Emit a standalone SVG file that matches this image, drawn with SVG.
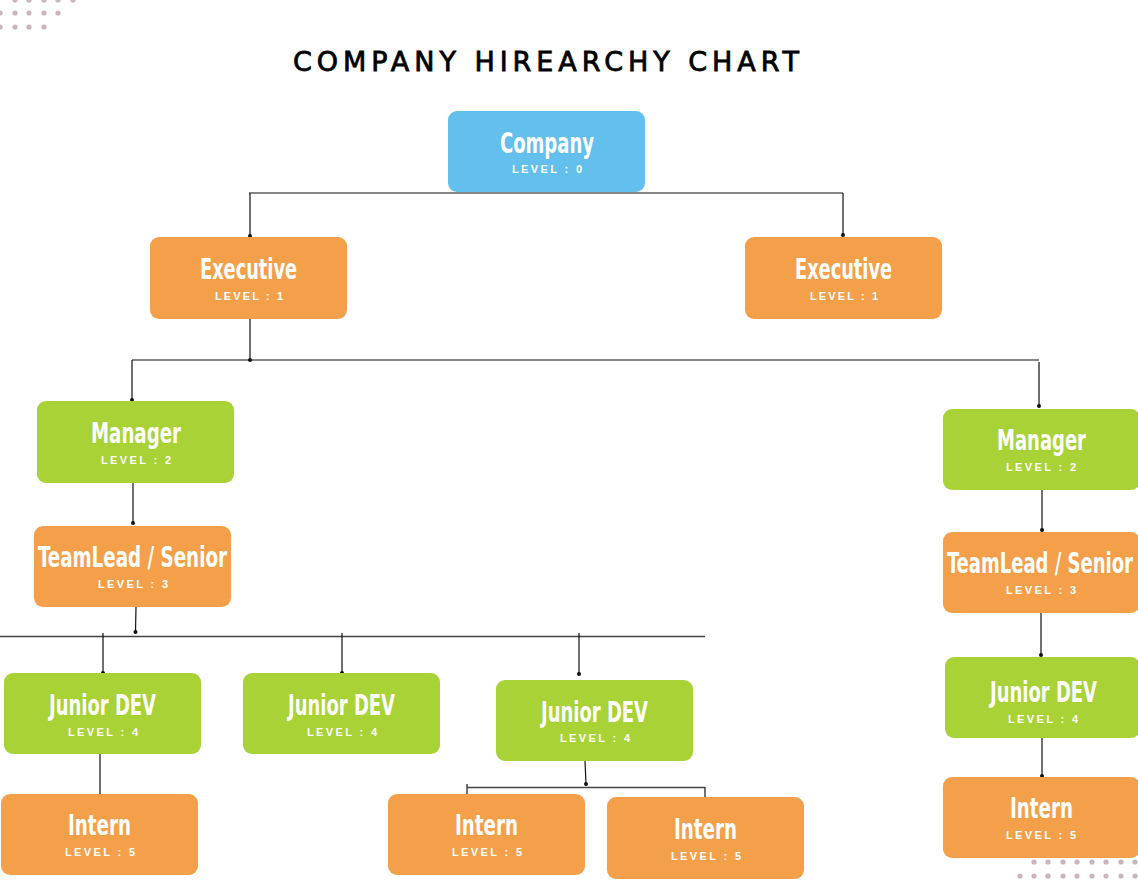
<svg xmlns="http://www.w3.org/2000/svg" width="1138" height="886" viewBox="0 0 1138 886">
<defs>
<style>
.blue{fill:#63BFEC}
.orange{fill:#F4A04A}
.green{fill:#A8D236}
.t{font-family:"DejaVu Sans Condensed","DejaVu Sans",sans-serif;font-weight:bold;font-size:21px;fill:#fff}
.l{font-family:"Liberation Sans",Arial,sans-serif;font-weight:bold;font-size:11px;fill:#fff}
.ln{stroke:#111;stroke-width:1.2;fill:none}
.bus{stroke:#444;stroke-width:1.5;fill:none}
.dot{fill:#111}
.pd{fill:#C9B6BA}
.title{font-family:"DejaVu Sans",sans-serif;font-weight:normal;font-size:27px;fill:#000;stroke:#000;stroke-width:0.8}
</style>
</defs>
<rect width="1138" height="886" fill="#fff"/>
<g id="dots-top">
<circle class="pd" cx="15" cy="0" r="2.6"/><circle class="pd" cx="29" cy="0" r="2.6"/><circle class="pd" cx="44" cy="0" r="2.6"/><circle class="pd" cx="58" cy="0" r="2.6"/><circle class="pd" cx="73" cy="0" r="2.6"/>
<circle class="pd" cx="0" cy="13" r="2.6"/><circle class="pd" cx="15" cy="13" r="2.6"/><circle class="pd" cx="29" cy="13" r="2.6"/><circle class="pd" cx="44" cy="13" r="2.6"/><circle class="pd" cx="58" cy="13" r="2.6"/>
<circle class="pd" cx="0" cy="27" r="2.6"/><circle class="pd" cx="15" cy="27" r="2.6"/><circle class="pd" cx="29" cy="27" r="2.6"/><circle class="pd" cx="44" cy="27" r="2.6"/>
</g>
<g id="dots-bottom">
<circle class="pd" cx="1034" cy="862" r="2.6"/><circle class="pd" cx="1048" cy="862" r="2.6"/><circle class="pd" cx="1063" cy="862" r="2.6"/><circle class="pd" cx="1077" cy="862" r="2.6"/><circle class="pd" cx="1092" cy="862" r="2.6"/><circle class="pd" cx="1106" cy="862" r="2.6"/><circle class="pd" cx="1121" cy="862" r="2.6"/><circle class="pd" cx="1135" cy="862" r="2.6"/>
<circle class="pd" cx="1020" cy="876" r="2.6"/><circle class="pd" cx="1034" cy="876" r="2.6"/><circle class="pd" cx="1048" cy="876" r="2.6"/><circle class="pd" cx="1063" cy="876" r="2.6"/><circle class="pd" cx="1077" cy="876" r="2.6"/><circle class="pd" cx="1092" cy="876" r="2.6"/><circle class="pd" cx="1106" cy="876" r="2.6"/><circle class="pd" cx="1121" cy="876" r="2.6"/><circle class="pd" cx="1135" cy="876" r="2.6"/>
</g>
<text class="title" x="293" y="71" textLength="506" lengthAdjust="spacing">COMPANY HIREARCHY CHART</text>
<g id="connectors">
<path class="ln" d="M249 193H843M250 193V236M843 193V235"/>
<circle class="dot" cx="250" cy="236" r="2"/><circle class="dot" cx="843" cy="235" r="2"/>
<path class="ln" d="M250 319V360M132 360H1039M132 360V400M1039 362V406"/>
<circle class="dot" cx="250" cy="360" r="2"/><circle class="dot" cx="132" cy="400" r="2"/><circle class="dot" cx="1039" cy="406" r="2"/>
<path class="ln" d="M133 483V523"/><circle class="dot" cx="133" cy="523" r="2"/>
<path class="ln" d="M136 607L135.5 632"/><circle class="dot" cx="135.5" cy="632" r="2"/>
<path class="bus" d="M0 636.5H705"/>
<path class="ln" d="M103 633V673M342 633V673M579 633V675"/>
<circle class="dot" cx="103" cy="673" r="2"/><circle class="dot" cx="342" cy="673" r="2"/><circle class="dot" cx="579" cy="674" r="2"/>
<path class="ln" d="M100 754V794"/>
<path class="ln" d="M585 761L586 784"/><circle class="dot" cx="586" cy="784" r="2"/>
<path class="bus" d="M467 787.5H705M467 784V794M705 787V797"/>
<path class="ln" d="M1042 490V530"/><circle class="dot" cx="1042" cy="530" r="2"/>
<path class="ln" d="M1041 613V655"/><circle class="dot" cx="1041" cy="655" r="2"/>
<path class="ln" d="M1042 738V776"/><circle class="dot" cx="1042" cy="776" r="2"/>
</g>
<g id="company"><rect class="blue" x="448" y="111" width="197" height="81" rx="9"/><text class="t" transform="translate(500 153) scale(1 1.38)" textLength="94" lengthAdjust="spacingAndGlyphs">Company</text><text class="l" x="512" y="173" textLength="70" lengthAdjust="spacing">LEVEL : 0</text></g>
<g id="exec-left"><rect class="orange" x="150" y="237" width="197" height="82" rx="9"/><text class="t" transform="translate(200 279) scale(1 1.38)" textLength="97" lengthAdjust="spacingAndGlyphs">Executive</text><text class="l" x="215" y="300" textLength="68" lengthAdjust="spacing">LEVEL : 1</text></g>
<g id="exec-right"><rect class="orange" x="745" y="237" width="197" height="82" rx="9"/><text class="t" transform="translate(795 279) scale(1 1.38)" textLength="97" lengthAdjust="spacingAndGlyphs">Executive</text><text class="l" x="810" y="300" textLength="68" lengthAdjust="spacing">LEVEL : 1</text></g>
<g id="manager-left"><rect class="green" x="37" y="401" width="197" height="82" rx="9"/><text class="t" transform="translate(91 443) scale(1 1.38)" textLength="90" lengthAdjust="spacingAndGlyphs">Manager</text><text class="l" x="101" y="464" textLength="70" lengthAdjust="spacing">LEVEL : 2</text></g>
<g id="manager-right"><rect class="green" x="943" y="409" width="197" height="81" rx="9"/><text class="t" transform="translate(997 450) scale(1 1.38)" textLength="89" lengthAdjust="spacingAndGlyphs">Manager</text><text class="l" x="1006" y="471" textLength="70" lengthAdjust="spacing">LEVEL : 2</text></g>
<g id="teamlead-left"><rect class="orange" x="34" y="526" width="197" height="81" rx="9"/><text class="t" transform="translate(38 567) scale(1 1.38)" textLength="189" lengthAdjust="spacingAndGlyphs">TeamLead / Senior</text><text class="l" x="98" y="588" textLength="70" lengthAdjust="spacing">LEVEL : 3</text></g>
<g id="teamlead-right"><rect class="orange" x="943" y="532" width="197" height="81" rx="9"/><text class="t" style="font-size:19.5px" transform="translate(947 573) scale(1 1.49)" textLength="186" lengthAdjust="spacingAndGlyphs">TeamLead / Senior</text><text class="l" x="1006" y="594" textLength="70" lengthAdjust="spacing">LEVEL : 3</text></g>
<g id="junior-1"><rect class="green" x="4" y="673" width="197" height="81" rx="9"/><text class="t" transform="translate(49 715) scale(1 1.38)" textLength="107" lengthAdjust="spacingAndGlyphs">Junior DEV</text><text class="l" x="68" y="736" textLength="70" lengthAdjust="spacing">LEVEL : 4</text></g>
<g id="junior-2"><rect class="green" x="243" y="673" width="197" height="81" rx="9"/><text class="t" transform="translate(288 715) scale(1 1.38)" textLength="107" lengthAdjust="spacingAndGlyphs">Junior DEV</text><text class="l" x="307" y="736" textLength="70" lengthAdjust="spacing">LEVEL : 4</text></g>
<g id="junior-3"><rect class="green" x="496" y="680" width="197" height="81" rx="9"/><text class="t" transform="translate(541 722) scale(1 1.38)" textLength="107" lengthAdjust="spacingAndGlyphs">Junior DEV</text><text class="l" x="560" y="742" textLength="70" lengthAdjust="spacing">LEVEL : 4</text></g>
<g id="junior-right"><rect class="green" x="945" y="657" width="195" height="81" rx="9"/><text class="t" transform="translate(990 702) scale(1 1.38)" textLength="107" lengthAdjust="spacingAndGlyphs">Junior DEV</text><text class="l" x="1008" y="723" textLength="70" lengthAdjust="spacing">LEVEL : 4</text></g>
<g id="intern-1"><rect class="orange" x="1" y="794" width="197" height="81" rx="9"/><text class="t" transform="translate(68 835) scale(1 1.38)" textLength="63" lengthAdjust="spacingAndGlyphs">Intern</text><text class="l" x="65" y="856" textLength="70" lengthAdjust="spacing">LEVEL : 5</text></g>
<g id="intern-2"><rect class="orange" x="388" y="794" width="197" height="81" rx="9"/><text class="t" transform="translate(455 835) scale(1 1.38)" textLength="63" lengthAdjust="spacingAndGlyphs">Intern</text><text class="l" x="452" y="856" textLength="70" lengthAdjust="spacing">LEVEL : 5</text></g>
<g id="intern-3"><rect class="orange" x="607" y="797" width="197" height="82" rx="9"/><text class="t" transform="translate(674 839) scale(1 1.38)" textLength="63" lengthAdjust="spacingAndGlyphs">Intern</text><text class="l" x="671" y="860" textLength="70" lengthAdjust="spacing">LEVEL : 5</text></g>
<g id="intern-right"><rect class="orange" x="943" y="777" width="197" height="81" rx="9"/><text class="t" transform="translate(1010 818) scale(1 1.38)" textLength="63" lengthAdjust="spacingAndGlyphs">Intern</text><text class="l" x="1006" y="839" textLength="70" lengthAdjust="spacing">LEVEL : 5</text></g>
</svg>
